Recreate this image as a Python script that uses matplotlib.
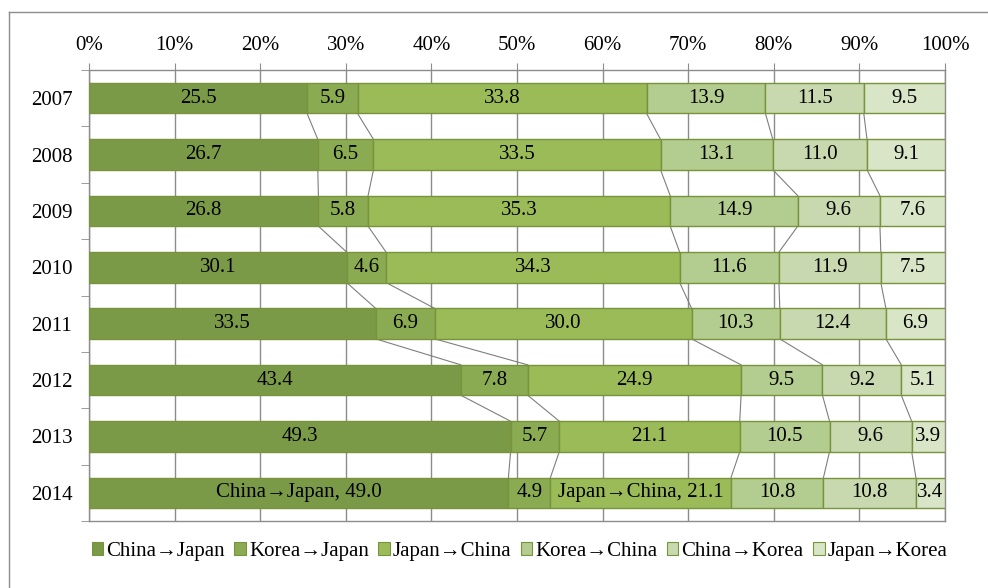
import matplotlib

matplotlib.use("Agg")
import matplotlib.pyplot as plt  # noqa: E402
import numpy as np  # noqa: E402
from matplotlib.lines import Line2D  # noqa: E402

plt.rcParams["font.family"] = ["Liberation Serif", "DejaVu Serif"]

years = ["2007", "2008", "2009", "2010", "2011", "2012", "2013", "2014"]
series_names = ["China→Japan", "Korea→Japan", "Japan→China",
                "Korea→China", "China→Korea", "Japan→Korea"]
china_japan = [25.5, 26.7, 26.8, 30.1, 33.5, 43.4, 49.3, 49.0]
korea_japan = [5.9, 6.5, 5.8, 4.6, 6.9, 7.8, 5.7, 4.9]
japan_china = [33.8, 33.5, 35.3, 34.3, 30.0, 24.9, 21.1, 21.1]
korea_china = [13.9, 13.1, 14.9, 11.6, 10.3, 9.5, 10.5, 10.8]
china_korea = [11.5, 11.0, 9.6, 11.9, 12.4, 9.2, 9.6, 10.8]
japan_korea = [9.5, 9.1, 7.6, 7.5, 6.9, 5.1, 3.9, 3.4]

colors = ["#7b9a48", "#8bab52", "#9bbb59", "#b3cc8f", "#c8d9b0", "#d9e5c7"]
edge = "#77933c"
grid_grey = "#8c8c8c"

data = np.array([china_japan, korea_japan, japan_china,
                 korea_china, china_korea, japan_korea])
share = data / data.sum(axis=0) * 100
cum = np.vstack([np.zeros(len(years)), np.cumsum(share, axis=0)])

fig = plt.figure(figsize=(9.88, 5.88), dpi=100)
ax = fig.add_axes([89 / 988, 67 / 588, 856 / 988, 451 / 588])

ypos = np.arange(len(years))
height = 0.54

for k, name in enumerate(series_names):
    ax.barh(ypos, share[k], left=cum[k], height=height, color=colors[k],
            edgecolor=edge, linewidth=1.0, label=name, zorder=3)
    for i in range(len(years)):
        txt = f"{data[k, i]:.1f}"
        if years[i] == "2014" and k in (0, 2):
            txt = f"{name}, {txt}"
        ax.text(cum[k, i] + share[k, i] / 2, ypos[i], txt, ha="center",
                va="center", fontsize=15, color="black", zorder=4)

# series connector lines between consecutive bars
for k in range(1, len(series_names)):
    for i in range(len(years) - 1):
        ax.plot([cum[k, i], cum[k, i + 1]],
                [ypos[i] + height / 2, ypos[i + 1] - height / 2],
                color="#7f7f7f", linewidth=0.8, zorder=2)

ax.set_xlim(0, 100)
ax.set_ylim(len(years) - 0.5, -0.5)
ax.xaxis.tick_top()
ax.set_xticks(np.arange(0, 101, 10))
ax.set_xticklabels([f"{v}%" for v in range(0, 101, 10)], fontsize=15)
ax.tick_params(axis="x", length=5, color=grid_grey, pad=6)
ax.set_yticks(ypos)
ax.set_yticklabels(years, fontsize=15)
ax.tick_params(axis="y", which="major", length=0, pad=12)
ax.set_yticks(np.arange(-0.5, len(years), 1), minor=True)
ax.tick_params(axis="y", which="minor", length=6, color=grid_grey)
ax.grid(axis="x", color=grid_grey, linewidth=1.0, zorder=0)
ax.set_axisbelow(True)
for side, spine in ax.spines.items():
    spine.set_color(grid_grey)
    spine.set_linewidth(1.0)

handles = [plt.Rectangle((0, 0), 1, 1, facecolor=c, edgecolor=edge, linewidth=0.8)
           for c in colors]
fig.legend(handles, series_names, loc="center", bbox_to_anchor=(0.526, 0.062),
           ncol=6, frameon=False, fontsize=15, handlelength=0.55,
           handleheight=0.55, handletextpad=0.15, columnspacing=0.45)

# outer chart frame (top and left edges visible)
fig.add_artist(Line2D([9 / 988, 1], [1 - 12 / 588, 1 - 12 / 588],
                      transform=fig.transFigure, color=grid_grey, linewidth=1.0))
fig.add_artist(Line2D([9 / 988, 9 / 988], [0, 1 - 12 / 588],
                      transform=fig.transFigure, color=grid_grey, linewidth=1.0))

fig.savefig("out.png", dpi=100)
